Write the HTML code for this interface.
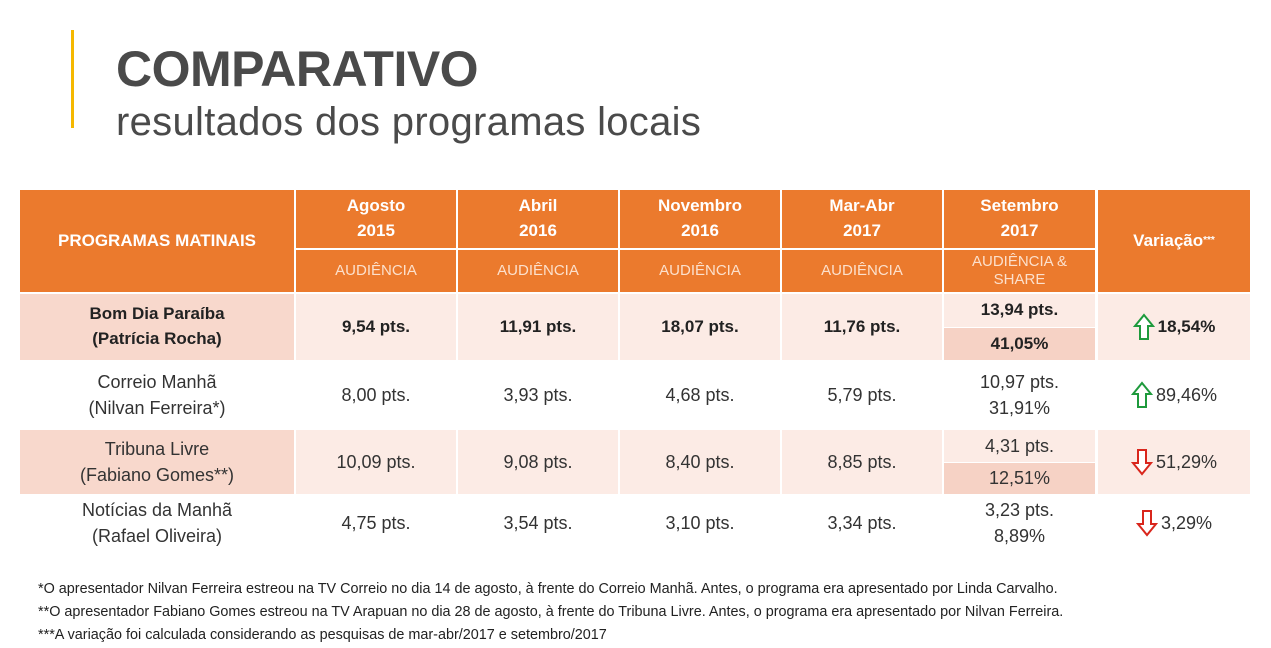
<!DOCTYPE html>
<html><head><meta charset="utf-8"><style>
body{margin:0;width:1271px;height:648px;background:#fff;position:relative;overflow:hidden;font-family:"Liberation Sans",sans-serif;color:#222}
.c{position:absolute;display:flex;align-items:center;justify-content:center;text-align:center;box-sizing:border-box;line-height:1.45}
.h{background:#EB7A2D;color:#fff;font-weight:bold;font-size:17px}
.s{background:#EB7A2D;color:#FCE0CC;font-size:15px;line-height:1.2}
.b{font-weight:bold;font-size:17px}
.n{font-size:18px;color:#333}
.fn{position:absolute;left:38px;font-size:14.4px;color:#222}
</style></head><body>
<div style="position:absolute;left:71px;top:30px;width:3px;height:98px;background:#F5B800"></div>
<div style="position:absolute;left:116px;top:40px;font-size:50px;font-weight:bold;color:#4a4a4a;letter-spacing:-0.5px">COMPARATIVO</div>
<div style="position:absolute;left:116px;top:100px;font-size:40px;color:#4a4a4a;letter-spacing:0.3px">resultados dos programas locais</div>
<div id="t"></div>
<div class="fn" style="top:581px">*O apresentador Nilvan Ferreira estreou na TV Correio no dia 14 de agosto, à frente do Correio Manhã. Antes, o programa era apresentado por Linda Carvalho.</div>
<div class="fn" style="top:604px">**O apresentador Fabiano Gomes estreou na TV Arapuan no dia 28 de agosto, à frente do Tribuna Livre. Antes, o programa era apresentado por Nilvan Ferreira.</div>
<div class="fn" style="top:627px">***A variação foi calculada considerando as pesquisas de mar-abr/2017 e setembro/2017</div>
<script>
const months=["Agosto<br>2015","Abril<br>2016","Novembro<br>2016","Mar-Abr<br>2017","Setembro<br>2017"];
const programs=["Bom Dia Paraíba<br>(Patrícia Rocha)","Correio Manhã<br>(Nilvan Ferreira*)","Tribuna Livre<br>(Fabiano Gomes**)","Notícias da Manhã<br>(Rafael Oliveira)"];
const values=[["9,54","11,91","18,07","11,76"],["8,00","3,93","4,68","5,79"],["10,09","9,08","8,40","8,85"],["4,75","3,54","3,10","3,34"]];
const setPts=["13,94","10,97","4,31","3,23"];
const setShare=["41,05%","31,91%","12,51%","8,89%"];
const variation=["18,54%","89,46%","51,29%","3,29%"];
const up=[true,true,false,false];
const t=document.getElementById('t');
function cell(x,y,w,h,cls,html,bg,name){const d=document.createElement('div');d.className='c '+cls;d.style.cssText=`left:${x}px;top:${y}px;width:${w}px;height:${h}px;`+(bg?`background:${bg};`:'');d.innerHTML=html;


t.appendChild(d);return d;}
const colX=[296,458,620,782,944],colW=[160,160,160,160,151];
cell(20,190,274,102,'h','PROGRAMAS MATINAIS',null,'header-programs');
months.forEach((m,i)=>{cell(colX[i],190,colW[i],58,'h',m,null,'header-month');
cell(colX[i],250,colW[i],42,'s',i<4?'AUDIÊNCIA':'AUDIÊNCIA &amp;<br>SHARE',null,'header-metric');});
cell(1098,190,152,102,'h','Variação<sup style="font-size:10px">***</sup>',null,'header-variation');
const rowY=[294,362,430,496],rowH=[66,66,64,54];
const arrow=(u)=>{const c=u?'#1E9A3C':'#D9261C';const p=u?'M11 2 L20 13 L15 13 L15 26 L7 26 L7 13 L2 13 Z':'M7 2 L15 2 L15 15 L20 15 L11 26 L2 15 L7 15 Z';return `<svg width="22" height="28" style="margin-right:3px"><path d="${p}" fill="#fff" stroke="${c}" stroke-width="2"/></svg>`;};
programs.forEach((p,r)=>{const shaded=r%2==0;const bold=r==0;const y=rowY[r],h=rowH[r];const cls=bold?'b':'n';
cell(20,y,274,h,cls,p,shaded?'#F8D8CC':null,'program-name');
values[r].forEach((v,i)=>cell(colX[i],y,colW[i],h,cls,v+' pts.',shaded?'#FCEBE5':null,'audience-value'));
if(shaded){cell(944,y,151,h/2,cls,setPts[r]+' pts.','#FCEBE5','setembro-points');cell(944,y+h/2+1,151,h/2-1,cls,setShare[r],'#F6D2C5','setembro-share');}
else{cell(944,y,151,h,cls,setPts[r]+' pts.<br>'+setShare[r],null,'setembro-values');}
cell(1098,y,152,h,cls,arrow(up[r])+variation[r],shaded?'#FCEBE5':null,'variation-value');});
</script>
</body></html>
